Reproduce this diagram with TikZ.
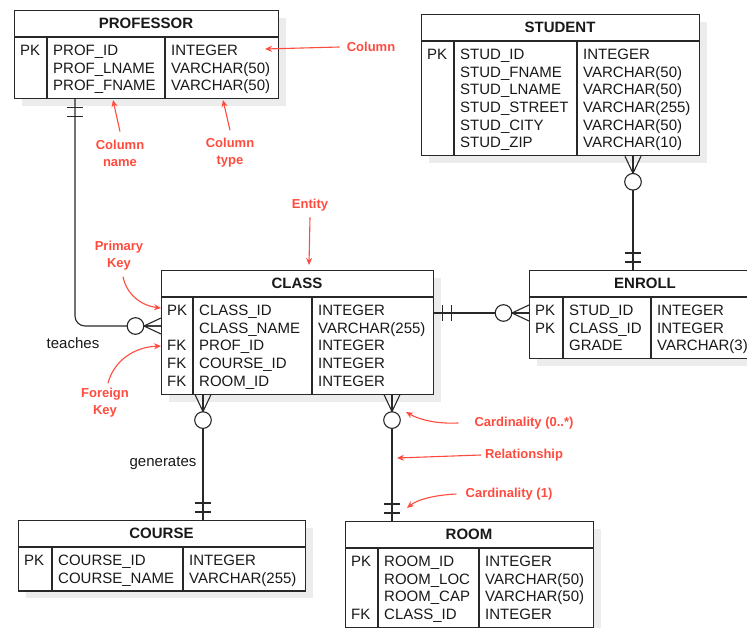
\documentclass[tikz,border=0pt]{standalone}
\usepackage{fontspec}
\setmainfont{Liberation Sans}
\usetikzlibrary{arrows.meta,calc,positioning}

\definecolor{annotred}{RGB}{255,75,62}
\definecolor{shadowgray}{RGB}{236,236,236}
\definecolor{linegray}{RGB}{40,40,40}

\tikzset{
    tblbox/.style={draw=linegray, line width=1.1pt, fill=white, inner sep=0pt, rectangle},
    tbltitle/.style={font=\fontsize{15}{18}\selectfont\bfseries, text=black!90, inner sep=0pt},
    cell/.style={font=\fontsize{15}{18}\selectfont, text=black!90, inner sep=0pt, anchor=base west},
    rel/.style={draw=linegray, line width=1.1pt},
    verb/.style={font=\fontsize{15}{18}\selectfont, text=black!90, inner sep=0pt},
    annot/.style={font=\fontsize{13}{17}\selectfont\bfseries, text=annotred, align=center, inner sep=0pt},
    annotarrow/.style={draw=annotred, line width=1.1pt, -{Stealth[length=7pt,width=6pt]}}
}

%Table: name, left, top, width, key|name split, name|type split, rows, title, row list
\newcommand\erdtable[9]{%
    \pgfmathsetmacro\tblH{27+17.7*#7+8}
    \fill[shadowgray] (#2+8,#3+8) rectangle ++(#4,\tblH); %shadow
    \node[tblbox, minimum width=#4pt, minimum height=\tblH pt, anchor=north west] (#1) at (#2,#3) {};
    \node[tbltitle] (#1-title) at (#2+#4/2,#3+13.5) {#8};
    \draw[rel] (#2,#3+27) -- ++(#4,0);
    \draw[rel] (#2+#5,#3+27) -- (#2+#5,#3+\tblH);
    \draw[rel] (#2+#6,#3+27) -- (#2+#6,#3+\tblH);
    \foreach \kk/\nm/\ty [count=\i] in {#9}{
        \pgfmathsetmacro\rowy{#3+45.4+17.7*(\i-1)}
        \node[cell] (#1-k\i) at (#2+6,\rowy) {\kk};
        \node[cell] (#1-n\i) at (#2+#5+6,\rowy) {\nm};
        \node[cell] (#1-t\i) at (#2+#6+6,\rowy) {\ty};
    }
}
%Crow's foot ends, #2 = direction pointing into the entity
\newcommand\zeromany[2]{%
    \begin{scope}[shift={(#1)}, rotate=#2]
        \draw[rel] (-17,0) -- (0,8) (-17,0) -- (0,0) (-17,0) -- (0,-8);
        \draw[rel, fill=white] (-25.5,0) circle[radius=8.3pt];
    \end{scope}}
\newcommand\onlyone[2]{%
    \begin{scope}[shift={(#1)}, rotate=#2]
        \draw[rel] (-8,-8) -- (-8,8) (-17,-8) -- (-17,8);
    \end{scope}}

\begin{document}
\begin{tikzpicture}[x=1pt, y=-1pt]
    \useasboundingbox (0,0) rectangle (747,628);
    \clip (0,0) rectangle (747,628);

    %Entities%
    %===========================================================
    \erdtable{prof}{14}{10}{264}{33}{151}{3}{PROFESSOR}{
        PK/PROF\_ID/INTEGER, /PROF\_LNAME/VARCHAR(50), /PROF\_FNAME/VARCHAR(50)}
    \erdtable{stud}{421}{14}{278}{33}{156}{6}{STUDENT}{
        PK/STUD\_ID/INTEGER, /STUD\_FNAME/VARCHAR(50), /STUD\_LNAME/VARCHAR(50),
        /STUD\_STREET/VARCHAR(255), /STUD\_CITY/VARCHAR(50), /STUD\_ZIP/VARCHAR(10)}
    \erdtable{class}{161}{270}{272}{32}{151}{5}{CLASS}{
        PK/CLASS\_ID/INTEGER, /CLASS\_NAME/VARCHAR(255), FK/PROF\_ID/INTEGER,
        FK/COURSE\_ID/INTEGER, FK/ROOM\_ID/INTEGER}
    \erdtable{enroll}{529}{270}{232}{34}{122}{3}{ENROLL}{
        PK/STUD\_ID/INTEGER, PK/CLASS\_ID/INTEGER, /GRADE/VARCHAR(3)}
    \erdtable{course}{18}{520}{287}{34}{165}{2}{COURSE}{
        PK/COURSE\_ID/INTEGER, /COURSE\_NAME/VARCHAR(255)}
    \erdtable{room}{345}{521}{248}{33}{134}{4}{ROOM}{
        PK/ROOM\_ID/INTEGER, /ROOM\_LOC/VARCHAR(50), /ROOM\_CAP/VARCHAR(50), FK/CLASS\_ID/INTEGER}

    %Relationships%
    %===========================================================
    \coordinate (profFoot) at ([xshift=61pt]prof.south west);
    \coordinate (classTeach) at ([yshift=-56pt]class.north west);
    \coordinate (classEast) at ([yshift=-43pt]class.north east);
    \coordinate (enrollWest) at ([yshift=-43pt]enroll.north west);
    \coordinate (studFoot) at ([xshift=212pt]stud.south west);
    \coordinate (enrollTop) at ([xshift=104pt]enroll.north west);
    \coordinate (classFootL) at ([xshift=42pt]class.south west);
    \coordinate (courseTop) at ([xshift=185pt]course.north west);
    \coordinate (classFootR) at ([xshift=231pt]class.south west);
    \coordinate (roomTop) at ([xshift=47pt]room.north west);

    \draw[rel, rounded corners=10pt] (profFoot) |- (classTeach);
    \draw[rel] (classEast) -- (enrollWest);
    \draw[rel] (studFoot) -- (enrollTop);
    \draw[rel] (classFootL) -- (courseTop);
    \draw[rel] (classFootR) -- (roomTop);

    \onlyone{profFoot}{90}     \zeromany{classTeach}{0}
    \onlyone{classEast}{180}   \zeromany{enrollWest}{0}
    \zeromany{studFoot}{90}    \onlyone{enrollTop}{-90}
    \zeromany{classFootL}{90}  \onlyone{courseTop}{-90}
    \zeromany{classFootR}{90}  \onlyone{roomTop}{-90}

    \node[verb] (teaches) at (73,343) {teaches};
    \node[verb] (generates) at (163,463) {generates};

    %Annotations%
    %===========================================================
    \node[annot] (lblColumn) at (371,47) {Column};
    \node[annot] (lblColName) at (120,153) {Column\\name};
    \node[annot] (lblColType) at (230,153) {Column\\type};
    \node[annot] (lblEntity) at (310,205) {Entity};
    \node[annot] (lblPK) at (119,256) {Primary\\Key};
    \node[annot] (lblFK) at (105,403) {Foreign\\Key};
    \node[annot] (lblCardMany) at (524,423) {Cardinality (0..*)};
    \node[annot] (lblRel) at (524,455) {Relationship};
    \node[annot] (lblCardOne) at (509,494) {Cardinality (1)};

    \coordinate (colTip) at (265,49);
    \coordinate (colNameTip) at (113,100);
    \coordinate (colTypeTip) at (223,100);
    \coordinate (entityTip) at (309,265);
    \coordinate (pkTip) at (161,308);
    \coordinate (fkTip) at (161,346);
    \coordinate (cardManyTip) at (406,412);
    \coordinate (relTip) at (397,458);
    \coordinate (cardOneTip) at (407,508);

    \draw[annotarrow] ([xshift=-7pt]lblColumn.west) -- (colTip);
    \draw[annotarrow] ([yshift=8pt]lblColName.north) -- (colNameTip);
    \draw[annotarrow] ([yshift=8pt]lblColType.north) -- (colTypeTip);
    \draw[annotarrow] ([yshift=-6pt]lblEntity.south) -- (entityTip);
    \draw[annotarrow] ([xshift=4pt,yshift=-6pt]lblPK.south) .. controls (127,296) and (143,306) .. (pkTip);
    \draw[annotarrow] ([xshift=3pt,yshift=5pt]lblFK.north) .. controls (114,360) and (135,347) .. (fkTip);
    \draw[annotarrow] ([xshift=-16pt]lblCardMany.west) .. controls (437,424) and (420,420) .. (cardManyTip);
    \draw[annotarrow] ([xshift=-4pt]lblRel.west) -- (relTip);
    \draw[annotarrow] ([xshift=-9pt]lblCardOne.west) .. controls (436,495) and (418,499) .. (cardOneTip);
\end{tikzpicture}
\end{document}
